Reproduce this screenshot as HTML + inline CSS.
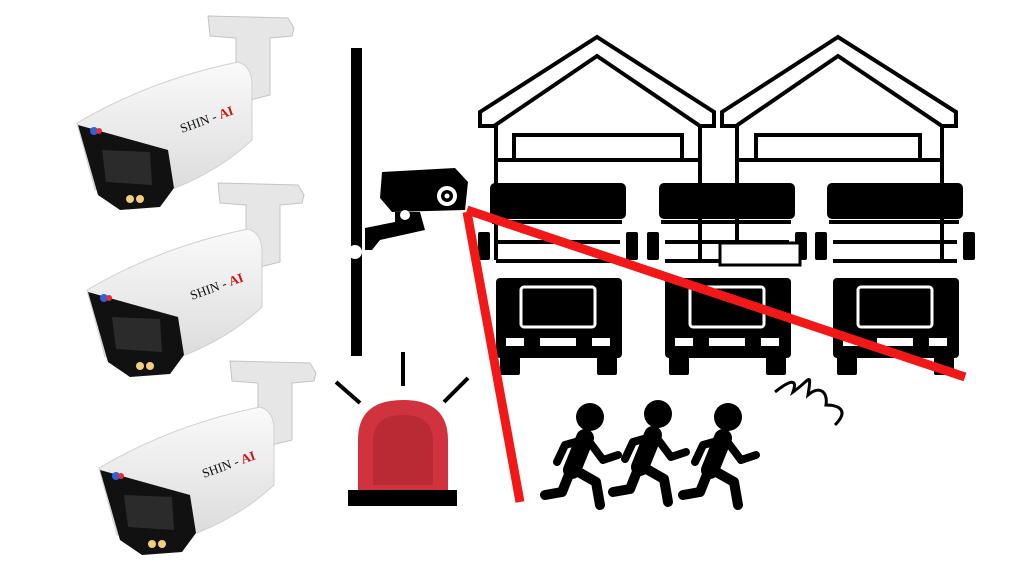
<!DOCTYPE html>
<html><head><style>body{margin:0;background:#fff}svg{display:block}</style></head><body>
<svg width="1024" height="577" viewBox="0 0 1024 577" xmlns="http://www.w3.org/2000/svg">
<defs>
<linearGradient id="cb" x1="0" y1="0" x2="0" y2="1"><stop offset="0" stop-color="#fafafa"/><stop offset="1" stop-color="#dcdcdc"/></linearGradient>
<g id="cam">
  <path d="M208 16 L288 18 L294 28 L292 36 L270 38 L270 95 L250 100 L236 90 L236 38 L210 36 Z" fill="#e6e6e6" stroke="#c4c4c4"/>
  <path d="M77 123 Q150 80 238 62 Q252 66 252 85 L252 140 Q220 170 175 188 L95 190 Z" fill="url(#cb)" stroke="#d0d0d0"/>
  <path d="M78 125 L168 150 L174 188 L160 207 L120 210 L98 195 Z" fill="#111"/>
  <path d="M102 150 L150 152 L152 185 L106 182 Z" fill="#2b2b2b"/>
  <circle cx="94" cy="131" r="4" fill="#3060e0"/><circle cx="99" cy="131" r="3" fill="#e03030"/>
  <circle cx="130" cy="199" r="4" fill="#f0d080"/><circle cx="140" cy="199" r="4" fill="#f0d080"/>
  <text x="182" y="133" font-family="Liberation Serif,serif" font-size="13" transform="rotate(-20 182 133)" fill="#111">SHIN - <tspan fill="#d01010" font-weight="bold">AI</tspan></text>
</g>
</defs>
<use href="#cam"/>
<use href="#cam" x="10" y="167"/>
<use href="#cam" x="22" y="345"/>
<rect x="351" y="48" width="11" height="308" fill="#000"/>
<circle cx="355" cy="252" r="7" fill="#fff"/>
<path d="M382 172 L455 168 L468 182 L465 210 L392 212 L380 198 Z" fill="#000"/>
<circle cx="447" cy="196" r="10" fill="#fff"/><circle cx="447" cy="196" r="6" fill="#000"/><circle cx="447" cy="196" r="2.5" fill="#fff"/>
<path d="M395 212 L420 212 L425 230 L380 240 L372 250 L365 250 L365 228 L395 222 Z" fill="#000"/>
<circle cx="405" cy="215" r="5" fill="#fff"/>
<g fill="#fff" stroke="#000" stroke-width="4">
<path d="M480 112 L597 37 L714 112 L714 126 L700 126 L597 56 L494 126 L480 126 Z"/>
<path d="M722 112 L838 37 L956 112 L956 126 L942 126 L838 56 L736 126 L722 126 Z"/>
<rect x="514" y="135" width="168" height="25"/>
<rect x="756" y="135" width="164" height="25"/>
</g>
<g stroke="#000" stroke-width="4">
<line x1="496" y1="125" x2="496" y2="260"/><line x1="700" y1="125" x2="700" y2="260"/>
<line x1="737" y1="125" x2="737" y2="260"/><line x1="942" y1="125" x2="942" y2="260"/>
<line x1="496" y1="160" x2="700" y2="160"/><line x1="737" y1="160" x2="942" y2="160"/>
</g>
<g id="truck" fill="#000">
  <rect x="490" y="183" width="136" height="36" rx="5"/>
  <rect x="492" y="220" width="130" height="4"/>
  <rect x="496" y="240" width="124" height="4"/>
  <rect x="496" y="259" width="124" height="4"/>
  <rect x="496" y="278" width="126" height="80" rx="4"/>
  <rect x="478" y="232" width="12" height="28" rx="2"/>
  <rect x="626" y="232" width="12" height="28" rx="2"/>
  <rect x="500" y="357" width="20" height="18" rx="2"/>
  <rect x="597" y="357" width="20" height="18" rx="2"/>
  <rect x="521" y="287" width="74" height="40" rx="3" fill="none" stroke="#fff" stroke-width="3"/>
  <rect x="540" y="338" width="36" height="8" fill="#fff"/>
  <rect x="506" y="338" width="18" height="8" fill="#fff"/>
  <rect x="592" y="338" width="18" height="8" fill="#fff"/>
</g>
<use href="#truck" x="169"/>
<use href="#truck" x="337"/>
<rect x="720" y="243" width="80" height="22" fill="#fff" stroke="#000" stroke-width="3"/>
<path d="M775 392 C790 380 798 378 793 392 C810 380 812 370 808 395 C820 385 828 392 826 405 C838 405 850 410 835 425" fill="none" stroke="#000" stroke-width="3"/>
<g stroke="#f21818" stroke-width="9" stroke-linecap="butt">
<line x1="467" y1="212" x2="520" y2="502"/>
<line x1="467" y1="210" x2="965" y2="377"/>
</g>
<g stroke="#000" stroke-width="4">
<line x1="403" y1="352" x2="403" y2="386"/>
<line x1="336" y1="382" x2="360" y2="403"/>
<line x1="468" y1="378" x2="444" y2="402"/>
</g>
<path d="M358 492 L358 440 Q358 400 403 400 Q448 400 448 440 L448 492 Z" fill="#d0323e"/>
<path d="M373 485 L373 442 Q373 415 403 415 Q433 415 433 442 L433 485 Z" fill="#b92a35"/>
<rect x="348" y="490" width="109" height="16" fill="#000"/>
<g id="run" fill="#000" stroke="#000" stroke-linecap="round" stroke-linejoin="round">
  <circle cx="590" cy="417" r="14" stroke="none"/>
  <path d="M585 438 L572 470" stroke-width="18" fill="none"/>
  <path d="M583 440 L565 445 L557 462" stroke-width="8" fill="none"/>
  <path d="M588 440 L603 460 L618 455" stroke-width="8" fill="none"/>
  <path d="M575 470 L596 482 L600 505" stroke-width="10" fill="none"/>
  <path d="M570 472 L562 492 L545 495" stroke-width="10" fill="none"/>
</g>
<use href="#run" x="68" y="-3"/>
<use href="#run" x="138" y="0"/>
</svg>
</body></html>
